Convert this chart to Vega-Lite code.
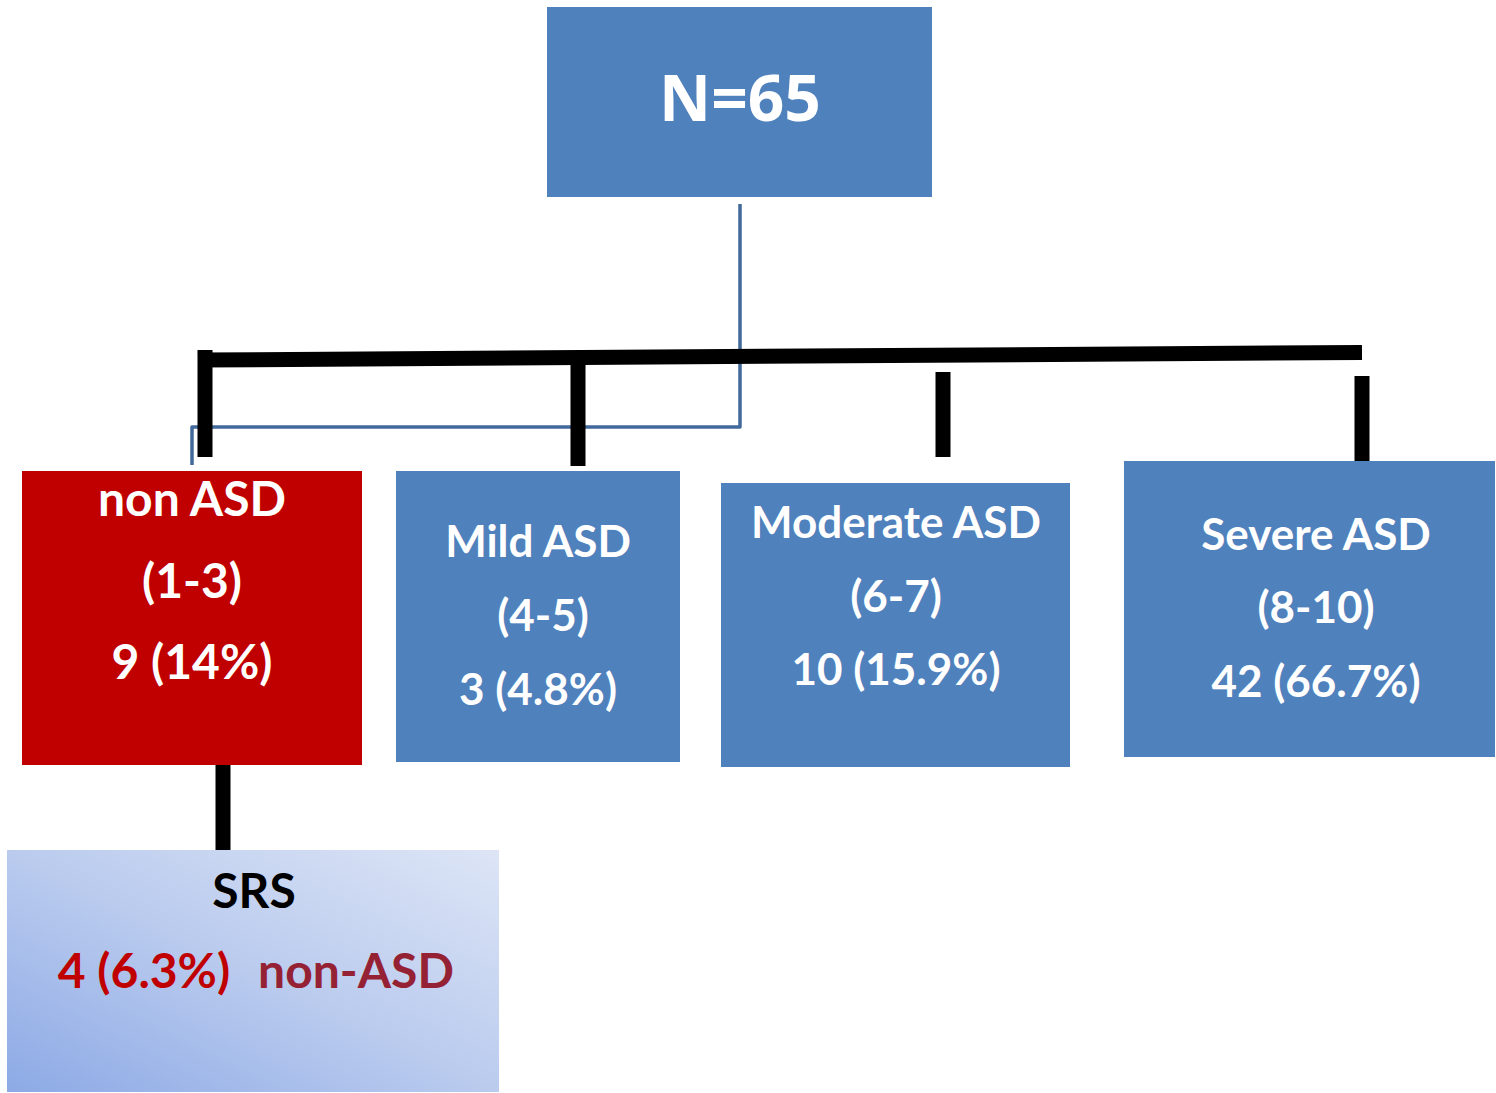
{
  "$schema": "https://vega.github.io/schema/vega-lite/v6.json",
  "width": 1496,
  "height": 1093,
  "autosize": {"type": "fit", "contains": "padding"},
  "padding": 0,
  "background": "white",
  "config": {"view": {"stroke": null}},
  "resolve": {"scale": {"color": "independent"}},
  "datasets": {
    "boxes": [
      {"box": "N=65", "kind": "ASD", "x1": 547, "x2": 932, "y1": 7, "y2": 197},
      {"box": "non ASD", "kind": "non ASD", "x1": 22, "x2": 362, "y1": 471, "y2": 765},
      {"box": "Mild ASD", "kind": "ASD", "x1": 396, "x2": 680, "y1": 471, "y2": 762},
      {"box": "Moderate ASD", "kind": "ASD", "x1": 721, "x2": 1070, "y1": 483, "y2": 767},
      {"box": "Severe ASD", "kind": "ASD", "x1": 1124, "x2": 1495, "y1": 461, "y2": 757}
    ],
    "srs": [
      {"box": "SRS", "x1": 7, "x2": 499, "y1": 850, "y2": 1092}
    ],
    "connectors": [
      {"link": "bar", "x1": 198, "y1": 360, "x2": 1362, "y2": 352.5},
      {"link": "non ASD", "x1": 205, "y1": 350, "x2": 205, "y2": 457},
      {"link": "Mild ASD", "x1": 578, "y1": 362, "x2": 578, "y2": 466},
      {"link": "Moderate ASD", "x1": 943, "y1": 372, "x2": 943, "y2": 457},
      {"link": "Severe ASD", "x1": 1362, "y1": 376, "x2": 1362, "y2": 461},
      {"link": "SRS", "x1": 223, "y1": 765, "x2": 223, "y2": 850}
    ],
    "bluepath": [
      {"step": 1, "x": 740, "y": 204},
      {"step": 2, "x": 740, "y": 427},
      {"step": 3, "x": 192, "y": 427},
      {"step": 4, "x": 192, "y": 465}
    ],
    "title": [
      {"text": "N=65", "x": 740, "y": 102}
    ],
    "labels": [
      {"text": "non ASD", "x": 192, "y": 502, "tone": "white", "group": "large"},
      {"text": "(1-3)", "x": 192, "y": 584, "tone": "white", "group": "large"},
      {"text": "9 (14%)", "x": 192, "y": 665, "tone": "white", "group": "large"},
      {"text": "Mild ASD", "x": 538, "y": 544, "tone": "white", "group": "small"},
      {"text": "(4-5)", "x": 543, "y": 618, "tone": "white", "group": "small"},
      {"text": "3 (4.8%)", "x": 538, "y": 692, "tone": "white", "group": "small"},
      {"text": "Moderate ASD", "x": 896, "y": 525, "tone": "white", "group": "small"},
      {"text": "(6-7)", "x": 896, "y": 599, "tone": "white", "group": "small"},
      {"text": "10 (15.9%)", "x": 896, "y": 672, "tone": "white", "group": "small"},
      {"text": "Severe ASD", "x": 1316, "y": 537, "tone": "white", "group": "small"},
      {"text": "(8-10)", "x": 1316, "y": 610, "tone": "white", "group": "small"},
      {"text": "42 (66.7%)", "x": 1316, "y": 684, "tone": "white", "group": "small"},
      {"text": "SRS", "x": 254, "y": 894, "tone": "black", "group": "large"},
      {"text": "4 (6.3%)", "x": 144, "y": 974, "tone": "red", "group": "large"},
      {"text": "non-ASD", "x": 356, "y": 974, "tone": "darkred", "group": "large"}
    ]
  },
  "layer": [
    {
      "data": {"name": "boxes"},
      "mark": {"type": "rect"},
      "encoding": {
        "x": {"field": "x1", "type": "quantitative", "scale": {"domain": [0, 1496], "nice": false, "zero": false}, "axis": null},
        "x2": {"field": "x2"},
        "y": {"field": "y1", "type": "quantitative", "scale": {"domain": [0, 1093], "nice": false, "zero": false, "reverse": true}, "axis": null},
        "y2": {"field": "y2"},
        "color": {"field": "kind", "type": "nominal", "scale": {"domain": ["ASD", "non ASD"], "range": ["#4F81BD", "#C00000"]}, "legend": null}
      }
    },
    {
      "data": {"name": "srs"},
      "mark": {
        "type": "rect",
        "fill": {
          "gradient": "linear",
          "x1": 0, "y1": 1, "x2": 1, "y2": 0,
          "stops": [
            {"offset": 0, "color": "#8DAAE6"},
            {"offset": 0.5, "color": "#BACBEE"},
            {"offset": 1, "color": "#DDE5F6"}
          ]
        }
      },
      "encoding": {
        "x": {"field": "x1", "type": "quantitative", "axis": null},
        "x2": {"field": "x2"},
        "y": {"field": "y1", "type": "quantitative", "axis": null},
        "y2": {"field": "y2"}
      }
    },
    {
      "data": {"name": "bluepath"},
      "mark": {"type": "line", "color": "#41699C", "strokeWidth": 3.5, "strokeJoin": "round"},
      "encoding": {
        "x": {"field": "x", "type": "quantitative", "axis": null},
        "y": {"field": "y", "type": "quantitative", "axis": null},
        "order": {"field": "step", "type": "quantitative"}
      }
    },
    {
      "data": {"name": "connectors"},
      "mark": {"type": "rule", "color": "black", "strokeWidth": 15, "strokeCap": "butt"},
      "encoding": {
        "x": {"field": "x1", "type": "quantitative", "axis": null},
        "x2": {"field": "x2"},
        "y": {"field": "y1", "type": "quantitative", "axis": null},
        "y2": {"field": "y2"}
      }
    },
    {
      "data": {"name": "title"},
      "mark": {"type": "text", "font": "Open Sans", "fontWeight": "bold", "fontSize": 64, "color": "white", "align": "center", "baseline": "middle"},
      "encoding": {
        "x": {"field": "x", "type": "quantitative", "axis": null},
        "y": {"field": "y", "type": "quantitative", "axis": null},
        "text": {"field": "text"}
      }
    },
    {
      "data": {"name": "labels"},
      "transform": [{"filter": "datum.group === 'large'"}],
      "mark": {"type": "text", "font": "Lato", "fontWeight": "bold", "fontSize": 48, "align": "center", "baseline": "middle"},
      "encoding": {
        "x": {"field": "x", "type": "quantitative", "axis": null},
        "y": {"field": "y", "type": "quantitative", "axis": null},
        "text": {"field": "text"},
        "color": {"field": "tone", "type": "nominal", "scale": {"domain": ["white", "black", "red", "darkred"], "range": ["#FFFFFF", "#000000", "#C00000", "#952234"]}, "legend": null}
      }
    },
    {
      "data": {"name": "labels"},
      "transform": [{"filter": "datum.group === 'small'"}],
      "mark": {"type": "text", "font": "Lato", "fontWeight": "bold", "fontSize": 44, "align": "center", "baseline": "middle", "color": "#FFFFFF"},
      "encoding": {
        "x": {"field": "x", "type": "quantitative", "axis": null},
        "y": {"field": "y", "type": "quantitative", "axis": null},
        "text": {"field": "text"}
      }
    }
  ]
}
